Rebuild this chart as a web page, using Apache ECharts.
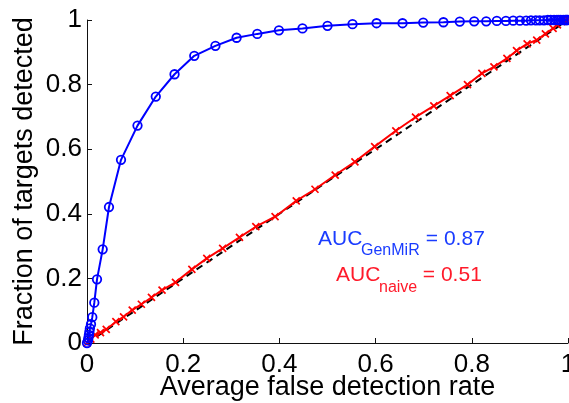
<!DOCTYPE html>
<html>
<head>
<meta charset="utf-8">
<script src="https://cdn.jsdelivr.net/npm/echarts@6/dist/echarts.min.js"></script>
<style>html,body{margin:0;padding:0;background:#fff;}#c{width:569px;height:403px;}</style>
</head>
<body>
<div id="c"></div>
<script>
var genmirX = [0, 0.002, 0.003, 0.004, 0.005, 0.006, 0.0083, 0.011, 0.0152, 0.0208, 0.0326, 0.0457, 0.0707, 0.105, 0.143, 0.182, 0.223, 0.267, 0.311, 0.354, 0.399, 0.448, 0.500, 0.552, 0.602, 0.656, 0.699, 0.741, 0.775, 0.805, 0.830, 0.852, 0.871, 0.886, 0.900, 0.913, 0.923, 0.933, 0.941, 0.950, 0.958, 0.964, 0.971, 0.977, 0.981, 0.985, 0.990, 0.994, 0.996, 0.998, 1.0];
var genmirY = [0, 0.008, 0.016, 0.025, 0.035, 0.045, 0.058, 0.080, 0.125, 0.197, 0.290, 0.421, 0.567, 0.673, 0.763, 0.832, 0.889, 0.920, 0.945, 0.957, 0.968, 0.974, 0.982, 0.987, 0.990, 0.990, 0.992, 0.993, 0.995, 0.996, 0.996, 0.997, 0.997, 0.998, 0.998, 0.998, 0.999, 0.999, 0.999, 0.999, 1, 1, 1, 1, 1, 1, 1, 1, 1, 1, 1];
var naiveX = [0, 0.008, 0.017, 0.028, 0.040, 0.060, 0.076, 0.094, 0.113, 0.134, 0.156, 0.184, 0.218, 0.249, 0.282, 0.317, 0.351, 0.391, 0.435, 0.474, 0.516, 0.557, 0.598, 0.642, 0.683, 0.721, 0.755, 0.791, 0.821, 0.846, 0.873, 0.893, 0.915, 0.935, 0.953, 0.969, 0.978, 0.987, 0.994, 1];
var naiveY = [0, 0.012, 0.025, 0.032, 0.042, 0.066, 0.081, 0.102, 0.120, 0.141, 0.164, 0.188, 0.228, 0.262, 0.293, 0.327, 0.360, 0.391, 0.440, 0.476, 0.520, 0.561, 0.608, 0.657, 0.699, 0.734, 0.766, 0.800, 0.835, 0.855, 0.881, 0.905, 0.926, 0.938, 0.957, 0.974, 0.985, 0.995, 1.0, 1];
var diagX = [0, 1];
var diagY = [0, 1];
var xTitle = 'Average false detection rate';
var yTitle = 'Fraction of targets detected';

function pairs(xs, ys) { return xs.map(function (x, i) { return [x, ys[i]]; }); }

var FONT = 'Liberation Sans, Arial, Helvetica, sans-serif';
var chart = echarts.init(document.getElementById('c'), null, {renderer: 'canvas'});
var axisCommon = {
  type: 'value', min: 0, max: 1, interval: 0.2,
  splitLine: {show: false},
  axisLine: {show: true, lineStyle: {color: '#111', width: 1}},
  axisTick: {show: true, inside: true, length: 5, lineStyle: {color: '#111', width: 1}},
  axisLabel: {color: '#000', fontFamily: FONT, fontSize: 26, showMinLabel: true, showMaxLabel: true,
    hideOverlap: false,
    formatter: function (v) { return String(+v.toFixed(1)); }},
  nameLocation: 'middle',
  nameMoveOverlap: false,
  nameTextStyle: {color: '#000', fontFamily: FONT, fontSize: 27}
};
var option = {
  animation: false,
  backgroundColor: '#fff',
  grid: {left: 87, right: 1, top: 20, bottom: 60, containLabel: false, outerBoundsMode: 'none'},
  xAxis: Object.assign({}, axisCommon, {name: xTitle, nameGap: 31,
    axisLabel: Object.assign({}, axisCommon.axisLabel, {margin: 9})}),
  yAxis: Object.assign({}, axisCommon, {name: yTitle, nameGap: 49,
    axisLabel: Object.assign({}, axisCommon.axisLabel, {margin: 5})}),
  series: [
    {type: 'line', data: pairs(diagX, diagY), symbol: 'none', z: 1,
     lineStyle: {color: '#000', width: 2, type: [7, 5]}},
    {type: 'line', data: pairs(naiveX, naiveY), z: 2,
     symbol: 'path://M0,0L10,10M10,0L0,10', symbolSize: 7,
     lineStyle: {color: '#ff0000', width: 2},
     itemStyle: {color: '#ff0000', borderColor: '#ff0000', borderWidth: 1.7}},
    {type: 'line', data: pairs(genmirX, genmirY), z: 3,
     symbol: 'circle', symbolSize: 8.5,
     lineStyle: {color: '#0000ff', width: 2},
     itemStyle: {color: 'rgba(0,0,0,0)', borderColor: '#0000ff', borderWidth: 1.8}}
  ],
  graphic: [
    {type: 'text', left: 318, top: 229, style: {text: 'AUC', font: '21px ' + FONT, fill: '#1a3cff'}},
    {type: 'text', left: 361, top: 243, style: {text: 'GenMiR', font: '16px ' + FONT, fill: '#1a3cff'}},
    {type: 'text', left: 420, top: 229, style: {text: ' = 0.87', font: '21px ' + FONT, fill: '#1a3cff'}},
    {type: 'text', left: 336, top: 265, style: {text: 'AUC', font: '21px ' + FONT, fill: '#ff1a2a'}},
    {type: 'text', left: 379, top: 280, style: {text: 'naive', font: '16px ' + FONT, fill: '#ff1a2a'}},
    {type: 'text', left: 417, top: 265, style: {text: ' = 0.51', font: '21px ' + FONT, fill: '#ff1a2a'}}
  ]
};
chart.setOption(option);
</script>
</body>
</html>
